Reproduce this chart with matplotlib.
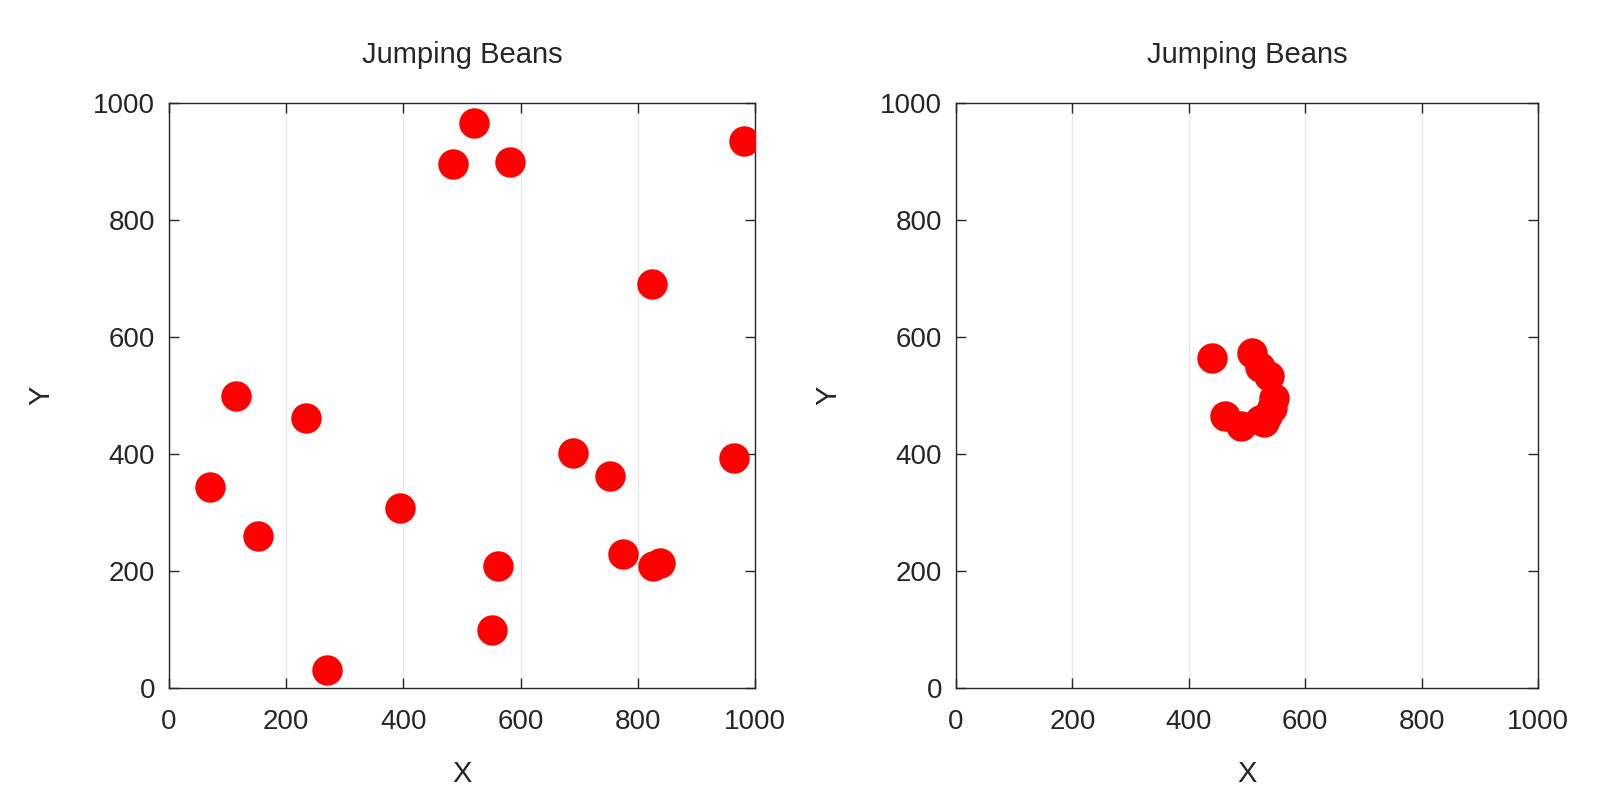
import numpy as np
import matplotlib
matplotlib.use("Agg")
import matplotlib.pyplot as plt

plt.rcParams['font.family'] = ['Liberation Sans', 'DejaVu Sans']

title = "Jumping Beans"
x_label = "X"
y_label = "Y"
ticks = [0, 200, 400, 600, 800, 1000]

left_x = [521, 484, 582, 981, 824, 115, 233, 70, 152, 395, 690, 753, 965, 561, 552, 270, 775, 826, 838]
left_y = [965, 895, 900, 935, 691, 499, 461, 344, 260, 307, 401, 363, 394, 209, 99, 30, 229, 208, 213]

right_x = [440, 508, 522, 538, 547, 543, 535, 522, 490, 462, 530]
right_y = [564, 573, 548, 533, 495, 478, 465, 458, 448, 465, 455]

fig = plt.figure(figsize=(16, 8), dpi=100)
ax1 = fig.add_axes([169 / 1600, 1 - 688 / 800, 586 / 1600, 585 / 800])
ax2 = fig.add_axes([956 / 1600, 1 - 688 / 800, 582 / 1600, 585 / 800])

tc = '#262626'
for ax, xs, ys in [(ax1, left_x, left_y), (ax2, right_x, right_y)]:
    ax.scatter(xs, ys, s=480, marker='o', color='#ff0000', linewidths=0, zorder=3)
    ax.set_xlim(0, 1000)
    ax.set_ylim(0, 1000)
    ax.set_xticks(ticks)
    ax.set_yticks(ticks)
    ax.tick_params(direction='in', top=True, right=True, length=7, width=1,
                   labelsize=20, colors=tc)
    ax.tick_params(axis='x', pad=15)
    ax.tick_params(axis='y', pad=10)
    ax.grid(axis='x', color='#e6e6e6', linewidth=1)
    ax.set_axisbelow(True)
    for sp in ax.spines.values():
        sp.set_color(tc)
        sp.set_linewidth(1)
    ax.set_title(title, fontsize=21, color=tc, pad=29)
    ax.set_xlabel(x_label, fontsize=21, color=tc, labelpad=18)
    ax.set_ylabel(y_label, fontsize=21, color=tc, labelpad=27)

fig.savefig("out.png", dpi=100, facecolor='white')
